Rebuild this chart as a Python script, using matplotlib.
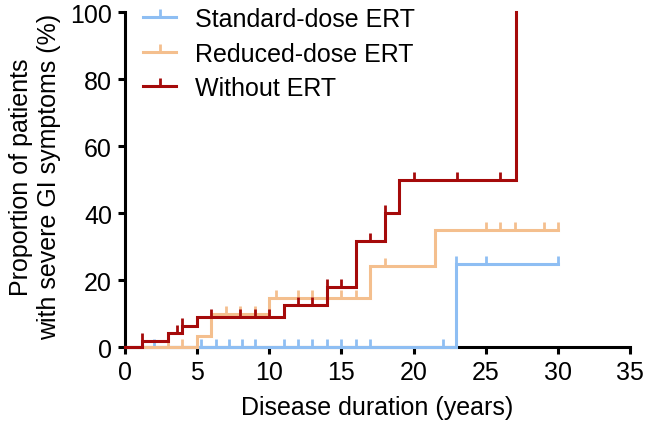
import numpy as np
import matplotlib
matplotlib.use("Agg")
import matplotlib.pyplot as plt

plt.rcParams['font.family'] = ['Liberation Sans', 'DejaVu Sans']

# ---- data ----
series_names = ["Standard-dose ERT", "Reduced-dose ERT", "Without ERT"]
colors = ["#8EBEF3", "#F4BF8E", "#A50A0A"]

std_time = [0, 22.9, 30]
std_pct = [0, 25, 25]
std_cens = [2, 5.3, 6.3, 7.2, 8.1, 9, 11, 12, 13, 14, 15, 16, 17, 22, 22.9, 25, 30]

red_time = [0, 5, 6, 10, 17, 21.5, 30]
red_pct = [0, 3.3, 10, 14.8, 24.2, 35, 35]
red_cens = [3, 4, 7, 8, 9, 10.5, 12, 13, 15, 16, 18, 25, 26, 27, 29, 30]

wo_time = [0, 1.2, 3, 4, 5, 11, 14, 16, 18, 19, 27.05]
wo_pct = [0, 2.0, 4.2, 6.5, 9.0, 12.8, 18.0, 31.8, 40.2, 50, 100]
wo_cens = [1.2, 3.6, 4, 6, 8, 9, 10, 12, 13, 14, 15, 17, 18, 20, 23, 26]

x_ticks = [0, 5, 10, 15, 20, 25, 30, 35]
y_ticks = [0, 20, 40, 60, 80, 100]

fig = plt.figure(figsize=(6.46, 4.35), dpi=100)
ax = fig.add_axes([0.1929, 0.199, 0.783, 0.771])

lw = 2.2
fs = 18
series = [(std_time, std_pct, std_cens), (red_time, red_pct, red_cens), (wo_time, wo_pct, wo_cens)]
for (t, p, c), col, name in zip(series, colors, series_names):
    t = np.asarray(t, float)
    p = np.asarray(p, float)
    ax.step(t, p, where='post', color=col, lw=lw, clip_on=False, zorder=3,
            solid_joinstyle='miter', solid_capstyle='projecting')
    c = np.asarray(c, float)
    idx = np.searchsorted(t, c, side='right') - 1
    ax.plot(c, p[idx], linestyle='none', marker=2, markersize=6, mew=2,
            color=col, clip_on=False, zorder=3)
    ax.plot([], [], color=col, lw=lw, marker=2, markersize=6, mew=2, label=name)

ax.set_xlim(0, 35)
ax.set_ylim(0, 100)
ax.set_xticks(x_ticks)
ax.set_yticks(y_ticks)
for s in ['top', 'right']:
    ax.spines[s].set_visible(False)
for s in ['left', 'bottom']:
    ax.spines[s].set_linewidth(2.2)
ax.tick_params(axis='both', width=2.2, length=5, labelsize=fs, pad=4)
ax.set_xlabel("Disease duration (years)", fontsize=fs, labelpad=8)
ax.set_ylabel("Proportion of patients\nwith severe GI symptoms (%)", fontsize=fs,
              labelpad=6.5, linespacing=1.22)
ax.yaxis.label.set_y(0.51)

leg = ax.legend(loc='upper left', bbox_to_anchor=(0.037, 1.015), frameon=False,
                fontsize=fs, handlelength=1.3, handletextpad=0.75,
                labelspacing=0.42, borderaxespad=0, borderpad=0, numpoints=1)

fig.savefig("out.png", dpi=100)
